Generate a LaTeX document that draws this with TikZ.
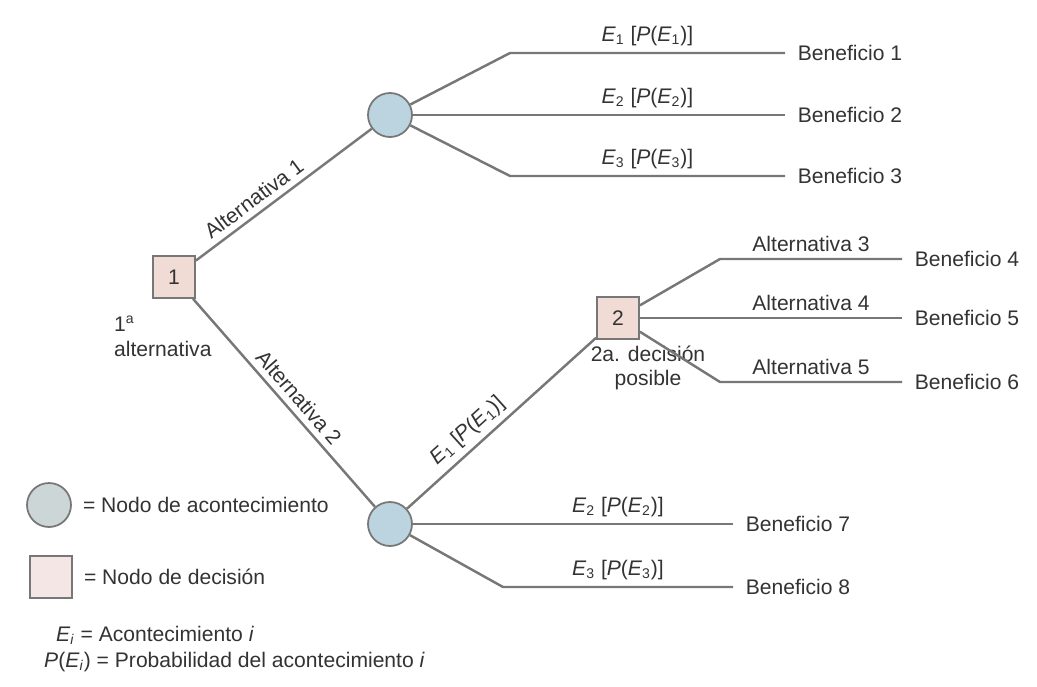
\documentclass[tikz,border=0pt]{standalone}
\usepackage{fontspec}
\setmainfont{Liberation Sans}
\usetikzlibrary{positioning}

\definecolor{trazo}{HTML}{777777}
\definecolor{texto}{HTML}{333333}
\definecolor{azulnodo}{HTML}{BCD3E0}
\definecolor{rosanodo}{HTML}{F0DCD4}
\definecolor{grisley}{HTML}{CDD6D6}
\definecolor{rosaley}{HTML}{F4E6E4}

\newcommand{\ev}[1]{\textit{E}\textsubscript{#1}}
\newcommand{\pev}[1]{\ev{#1} [\textit{P}(\ev{#1})]}

\begin{document}
\begin{tikzpicture}[x=0.2mm,y=-0.2mm,
    every node/.style={text=texto,font=\fontsize{12}{14}\selectfont},
    evento/.style={circle,draw=trazo,line width=1pt,fill=azulnodo,minimum size=8.8mm,inner sep=0pt},
    decision/.style={rectangle,draw=trazo,line width=1pt,fill=rosanodo,minimum size=8.4mm,inner sep=0pt},
    rama/.style={draw=trazo,line width=1.4pt},
    beneficio/.style={anchor=west,inner xsep=2.5mm},
    etiqueta/.style={midway,above=0pt}]
\useasboundingbox (0,0) rectangle (1037,686);

% nodos del arbol
\node[decision] (d1) at (174,277) {1};
\node[evento] (e1) at (390,115) {};
\node[evento] (e2) at (390,524) {};
\node[decision] (d2) at (618,318) {2};

% primera decision
\draw[rama] (d1) -- node[pos=0.38,sloped,above] {Alternativa 1} (e1);
\draw[rama] (d1) -- node[pos=0.52,sloped,above] {Alternativa 2} (e2);
\node[align=left,anchor=north west] (t1) at (108,310) {1\textsuperscript{a}\\alternativa};

% acontecimientos de la alternativa 1
\foreach \i/\y in {1/53,2/115,3/176} {
    \coordinate (a\i) at (510,\y);
    \node[beneficio] (b\i) at (785,\y) {Beneficio \i};
    \draw[rama] (e1) -- (a\i) -- node[etiqueta] {\pev{\i}} (b\i.west);
}

% acontecimientos de la alternativa 2
\draw[rama] (e2) -- node[pos=0.38,sloped,above] {\pev{1}} (d2);
\foreach \i/\y/\k in {2/524/7,3/587/8} {
    \coordinate (a\k) at (503,\y);
    \node[beneficio] (b\k) at (733,\y) {Beneficio \k};
    \draw[rama] (e2) -- (a\k) -- node[etiqueta] {\pev{\i}} (b\k.west);
}

% segunda decision
\node[align=center] (t2) at (648,368) {2a. decisión\\posible};
\foreach \i/\y/\k in {3/259/4,4/318/5,5/382/6} {
    \coordinate (c\i) at (720,\y);
    \node[beneficio] (b\k) at (902,\y) {Beneficio \k};
    \draw[rama] (d2) -- (c\i) -- node[etiqueta] {Alternativa \i} (b\k.west);
}

% leyenda
\node[evento,fill=grisley] (le) at (49,505) {};
\node[right=1mm of le] (lt1) {= Nodo de acontecimiento};
\node[decision,fill=rosaley] (ld) at (51,577) {};
\node[right=1mm of ld] (lt2) {= Nodo de decisión};
\node[anchor=west] (lt3) at (50,635) {\ev{\textit{i}} = Acontecimiento \textit{i}};
\node[anchor=west] (lt4) at (38,662) {\textit{P}(\ev{\textit{i}}) = Probabilidad del acontecimiento \textit{i}};
\end{tikzpicture}
\end{document}
